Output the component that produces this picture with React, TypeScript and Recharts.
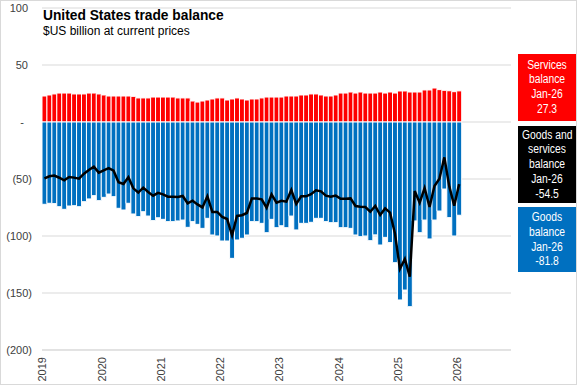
import React from "react";
import { Bar, CartesianGrid, ComposedChart, Line, XAxis, YAxis } from "recharts";

// monthly, Jan 2019 .. Jan 2026 ($US billion). axis runs on to Nov 2026
const startYear = 2019;
const axisMonths = 95;
const yearLabels = ["2019", "2020", "2021", "2022", "2023", "2024", "2025", "2026"];
const yTicks = [100, 50, 0, -50, -100, -150, -200];

const services = [
  22.8, 23.7, 24.6, 25.4, 25.4, 25.4, 24.6, 24.6, 24.6, 25.4, 25.4, 24.6,
  23.7, 22.8, 22.8, 22.8, 22.8, 22.8, 22.5, 21.1, 21.1, 21.1, 21.9, 21.9,
  21.9, 21.9, 21.9, 21.1, 21.1, 21.1, 18.4, 17.5, 18.4, 19.3, 20.2, 21.1,
  21.1, 19.3, 20.2, 21.1, 20.2, 19.3, 20.2, 20.2, 21.1, 21.9, 21.9, 21.9,
  21.9, 22.8, 22.8, 22.8, 23.7, 23.7, 24.6, 24.6, 23.7, 22.8, 22.8, 23.7,
  25.4, 25.4, 26.3, 25.4, 26.3, 25.4, 25.4, 25.4, 26.3, 25.4, 26.3, 25.4,
  27.2, 27.2, 26.3, 26.3, 26.3, 28.1, 28.1, 29.8, 28.4, 27.8, 27.4, 26.6,
  27.3,
];

const goods = [
  -72.2, -71.3, -71.6, -74.3, -76.6, -73.7, -73.4, -74.3, -69.9, -67.5, -64.6, -69.0,
  -66.1, -63.2, -65.5, -75.7, -77.2, -71.3, -80.7, -83.0, -78.7, -82.5, -86.5, -84.0,
  -85.4, -87.4, -87.4, -86.8, -86.0, -92.4, -87.4, -89.8, -93.3, -84.5, -99.1, -100.0,
  -104.4, -104.4, -119.6, -103.5, -102.0, -99.1, -87.4, -87.4, -88.9, -97.1, -85.4, -92.7,
  -91.0, -92.7, -82.5, -94.7, -88.9, -88.9, -88.0, -84.5, -84.5, -87.4, -88.3, -88.3,
  -92.7, -92.7, -93.3, -99.1, -100.6, -100.0, -104.1, -99.0, -107.9, -101.2, -105.8, -123.4,
  -156.1, -147.4, -162.0, -86.8, -97.1, -86.0, -102.6, -86.0, -78.1, -58.8, -83.9, -100.0,
  -81.8,
];

const balance = [
  -49.4, -47.6, -47.0, -48.9, -51.2, -48.3, -48.8, -49.7, -45.3, -42.1, -39.2, -44.4,
  -42.4, -40.4, -42.7, -52.9, -54.4, -48.5, -58.2, -61.9, -57.6, -61.4, -64.6, -62.1,
  -63.5, -65.5, -65.5, -65.7, -64.9, -71.3, -69.0, -72.3, -74.9, -65.2, -78.9, -78.9,
  -83.3, -85.1, -99.4, -82.4, -81.8, -79.8, -67.2, -67.2, -67.8, -75.2, -63.5, -70.8,
  -69.1, -69.9, -59.7, -71.9, -65.2, -65.2, -63.4, -59.9, -60.8, -64.6, -65.5, -64.6,
  -67.3, -67.3, -67.0, -73.7, -74.3, -74.6, -78.7, -73.6, -81.6, -75.8, -79.5, -98.0,
  -128.9, -120.2, -135.7, -60.5, -70.8, -57.9, -74.5, -56.2, -49.7, -31.0, -56.5, -73.4,
  -54.5,
];

const RED = "#FF0000";
const BLUE = "#0070C0";
const GRID = "#d9d9d9";
const TEXT = "#404040";
const last = services.length - 1;

const months = Array.from({ length: axisMonths }, (_, i) =>
  `${startYear + Math.floor(i / 12)}-${String((i % 12) + 1).padStart(2, "0")}`
);

const data = months.map((month, i) => ({
  month,
  services: i <= last ? services[i] : null,
  goods: i <= last ? goods[i] : null,
  balance: i <= last ? balance[i] : null,
}));

const callouts = [
  { lines: ["Services", "balance", "Jan-26", services[last].toFixed(1)], bg: RED, top: 54, height: 67, pad: 3.5 },
  { lines: ["Goods and", "services", "balance", "Jan-26", balance[last].toFixed(1)], bg: "#000", top: 126, height: 77, pad: 1.5 },
  { lines: ["Goods", "balance", "Jan-26", goods[last].toFixed(1)], bg: BLUE, top: 207, height: 65, pad: 3 },
];

const fmtY = (v: number) => (v === 0 ? "-" : v < 0 ? `(${-v})` : `${v}`);

function YTick({ y, payload }: any) {
  const v = payload.value as number;
  const x = v === 0 ? 24 : v < 0 ? 32 : 28;
  return (
    <text x={x} y={y} dy="0.35em" textAnchor="end" fontSize={11} fill={TEXT} fontFamily="Liberation Sans, Arial, sans-serif">
      {fmtY(v)}
    </text>
  );
}

function XTick({ x, y, payload }: any) {
  const [yr, mo] = String(payload.value).split("-");
  if (mo !== "01" || !yearLabels.includes(yr)) return null;
  const cx = x - 2;
  const cy = y - 1;
  return (
    <text
      x={cx}
      y={cy}
      dy="0.35em"
      textAnchor="end"
      transform={`rotate(-90, ${cx}, ${cy})`}
      fontSize={11}
      fill={TEXT}
      fontFamily="Liberation Sans, Arial, sans-serif"
    >
      {yr}
    </text>
  );
}

export default function App() {
  return (
    <div
      style={{
        position: "absolute",
        left: 0,
        top: 0,
        width: 577,
        height: 385,
        boxSizing: "border-box",
        border: `1px solid ${GRID}`,
        background: "#fff",
        fontFamily: "Liberation Sans, Arial, sans-serif",
      }}
    >
      <div style={{ position: "absolute", left: -1, top: -1 }}>
        <ComposedChart
          width={577}
          height={385}
          data={data}
          stackOffset="sign"
          barCategoryGap={0}
          margin={{ top: 8, right: 66, bottom: 5, left: 2 }}
        >
          <CartesianGrid vertical={false} stroke={GRID} />
          <XAxis
            dataKey="month"
            interval={0}
            tickLine={false}
            axisLine={{ stroke: GRID }}
            height={30}
            tick={<XTick />}
          />
          <YAxis
            type="number"
            domain={[-200, 100]}
            ticks={yTicks}
            interval={0}
            axisLine={false}
            tickLine={false}
            width={40}
            tick={<YTick />}
          />
          <Bar dataKey="services" stackId="trade" fill={RED} stroke="#fff" strokeWidth={1} isAnimationActive={false} />
          <Bar dataKey="goods" stackId="trade" fill={BLUE} stroke="#fff" strokeWidth={1} isAnimationActive={false} />
          <Line dataKey="balance" type="linear" stroke="#000" strokeWidth={2.5} dot={false} activeDot={false} isAnimationActive={false} />
        </ComposedChart>
      </div>

      <div style={{ position: "absolute", left: 42, top: 6, fontSize: 14.5, fontWeight: 700, lineHeight: "16px", color: "#000", whiteSpace: "nowrap", transform: "scaleX(0.95)", transformOrigin: "left" }}>
        United States trade balance
      </div>
      <div style={{ position: "absolute", left: 42, top: 23, fontSize: 12, lineHeight: "14px", color: "#000", whiteSpace: "nowrap" }}>
        $US billion at current prices
      </div>

      {callouts.map((c) => (
        <div
          key={c.lines[0]}
          style={{
            position: "absolute",
            left: 517,
            top: c.top - 1,
            width: 58,
            height: c.height,
            boxSizing: "border-box",
            paddingTop: c.pad,
            background: c.bg,
            color: "#fff",
            textAlign: "center",
            fontSize: 12,
            lineHeight: "14.8px",
            whiteSpace: "nowrap",
          }}
        >
          {c.lines.map((l, i) => (
            <div key={i} style={{ transform: "scaleX(0.86)", transformOrigin: "center" }}>
              {l}
            </div>
          ))}
        </div>
      ))}
    </div>
  );
}
